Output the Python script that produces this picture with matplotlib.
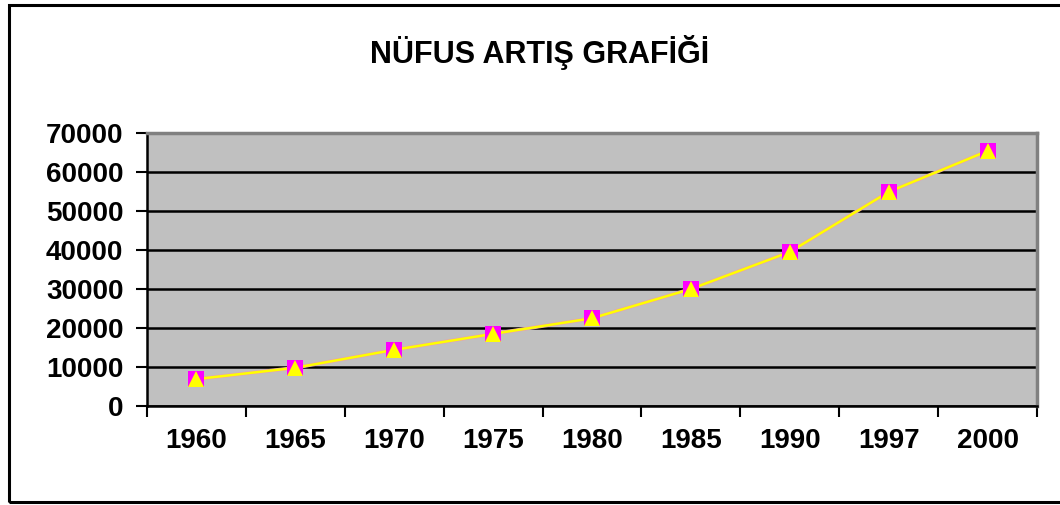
import matplotlib.pyplot as plt
from matplotlib.patches import Rectangle

plt.rcParams['font.family'] = ['Liberation Sans', 'DejaVu Sans']
plt.rcParams['font.weight'] = 'bold'

years = ['1960', '1965', '1970', '1975', '1980', '1985', '1990', '1997', '2000']
nufus = [6900, 9800, 14400, 18500, 22500, 30000, 39500, 54900, 65400]
y_ticks = [0, 10000, 20000, 30000, 40000, 50000, 60000, 70000]

fig = plt.figure(figsize=(10.6, 5.05), dpi=100)
ax = fig.add_axes([147 / 1060, 1 - 406 / 505, (1037 - 147) / 1060, (406 - 133) / 505])
ax.set_facecolor('#c0c0c0')

x = list(range(len(years)))
ax.plot(x, nufus, color='#e8a0b0', lw=2.6, zorder=3)
ax.plot(x, nufus, color='#ffff00', lw=1.8, zorder=4)
ax.plot(x, nufus, ls='none', marker='s', ms=11.5, mfc='#ff00ff', mec='#ff00ff', mew=0, zorder=5)
ax.plot(x, nufus, ls='none', marker='^', ms=11.5, mfc='#ffff00', mec='#ffff00', mew=0, zorder=6)

ax.set_xlim(-0.5, len(years) - 0.5)
ax.set_ylim(0, 70000)
ax.set_yticks(y_ticks)
ax.set_yticklabels([str(v) for v in y_ticks], fontsize=20, fontweight='bold')
ax.set_xticks([i - 0.5 for i in range(len(years) + 1)])
ax.set_xticklabels([])
ax.set_xticks(x, minor=True)
ax.set_xticklabels(years, minor=True, fontsize=20, fontweight='bold')
ax.tick_params(axis='x', which='minor', length=0, pad=16)
ax.tick_params(axis='x', which='major', direction='out', length=8, width=1.5)
ax.tick_params(axis='y', direction='out', length=8, width=1.5, pad=9)

ax.grid(axis='y', color='black', lw=1.8)
ax.set_axisbelow(True)
for s in ['left', 'bottom']:
    ax.spines[s].set_color('black')
    ax.spines[s].set_linewidth(1.8)
for s in ['top', 'right']:
    ax.spines[s].set_color('#808080')
    ax.spines[s].set_linewidth(2.5)

fig.text(540 / 1060, 1 - 52 / 505, 'NÜFUS ARTIŞ GRAFİĞİ', ha='center', va='center',
         fontsize=22, fontweight='bold')

fig.patches.append(Rectangle((9 / 1060, 3 / 505), 1.1, 497 / 505, transform=fig.transFigure,
                             fill=False, ec='black', lw=2.2))

fig.savefig('out.png', dpi=100)
